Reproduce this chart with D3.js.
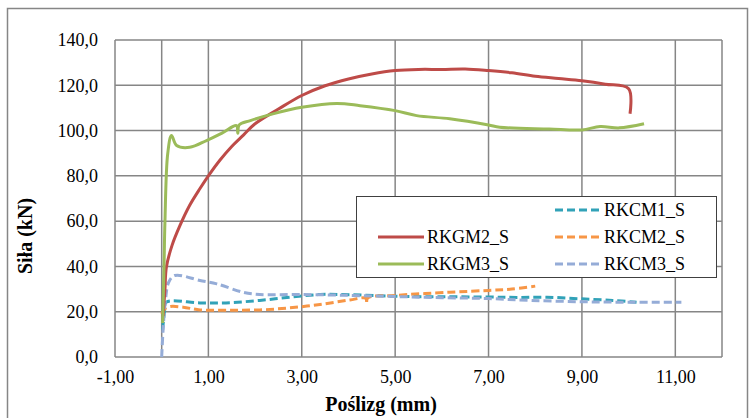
<!DOCTYPE html>
<html>
<head>
<meta charset="utf-8">
<script src="https://cdn.jsdelivr.net/npm/d3@7"></script>
<style>
  body { margin: 0; background: #fff; }
  text { font-family: "Liberation Serif", "Times New Roman", serif; fill: #000; }
</style>
</head>
<body>
<div id="chart"></div>
<script>
// slip (mm) vs force (kN)
var rkgm2 = [[0.03,18],[0.07,30],[0.1,39.6],[0.22,49.2],[0.39,58],[0.6,67],[0.82,74.4],[1.0,80],
  [1.25,87],[1.5,93],[1.75,98],[2.0,103],[2.5,109.5],[3.0,115.5],[3.5,119.8],[4.0,122.8],[4.5,125],
  [5.0,126.5],[5.5,127],[6.0,127],[6.5,127.2],[7.0,126.5],[7.5,125.5],[8.0,124],[8.5,123],
  [9.0,122],[9.5,120.5],[10.0,118.5],[10.03,107.4]];
var rkgm3 = [[0.02,15],[0.05,40],[0.07,60],[0.13,90],[0.21,97.8],[0.32,93.4],[0.6,92.6],[0.96,95.6],
  [1.3,99],[1.6,102.2],[1.63,98.8],[1.66,102.5],[1.9,104.4],[2.4,107.5],[3.0,110.3],[3.75,112],
  [4.25,111],[5.0,108.8],[5.46,106.6],[6.17,105.2],[7.0,102.5],[7.24,101.5],[8.3,100.7],[9.0,100.3],
  [9.39,101.8],[9.8,101.2],[10.33,103]];
var rkcm1 = [[0.02,12],[0.06,20],[0.1,24.2],[0.82,23.9],[1.46,24],[2.1,25],[2.75,26.4],[3.39,27.6],
  [4.03,27.5],[5.0,26.8],[6.0,26.6],[7.0,26.5],[7.6,26.3],[8.25,26.4],[8.96,25.7],[9.66,25],[10.17,24.2]];
var rkcm2 = [[0.0,19],[0.07,21.3],[0.18,22.3],[0.46,22],[0.82,20.8],[1.46,20.7],[2.1,20.8],[2.75,21.7],
  [3.39,23.2],[4.03,25.2],[4.37,25.9],[4.39,23.5],[4.41,26],[5.0,27.2],[6.17,28.6],[7.0,29.4],
  [7.5,30],[8.0,31.3]];
var rkcm3 = [[0.0,0],[0.03,12],[0.08,25],[0.15,33],[0.28,36],[0.82,33.8],[1.18,32.3],[1.74,28.6],
  [2.1,27.6],[2.96,27.6],[4.03,27.2],[5.0,26.7],[6.0,26.2],[7.0,25.8],[7.9,25],[9.0,24.4],
  [10.0,24.2],[11.13,24.2]];

var series = [
  {name: "RKGM2_S", data: rkgm2, color: "#be4b48", dash: null, col: 0, row: 1},
  {name: "RKGM3_S", data: rkgm3, color: "#9bbb59", dash: null, col: 0, row: 2},
  {name: "RKCM1_S", data: rkcm1, color: "#31a2b8", dash: "8,4", col: 1, row: 0},
  {name: "RKCM2_S", data: rkcm2, color: "#f79646", dash: "8,4", col: 1, row: 1},
  {name: "RKCM3_S", data: rkcm3, color: "#95acd7", dash: "8,4", col: 1, row: 2}
];
var xTicks = [-1, 1, 3, 5, 7, 9, 11];
var yTicks = [0, 20, 40, 60, 80, 100, 120, 140];

var W = 754, H = 418;
var pLeft = 115, pRight = 722, pTop = 40, pBottom = 357;

var svg = d3.select("#chart").append("svg")
    .attr("width", W)
    .attr("height", H);

// outer chart border
svg.append("rect")
    .attr("x", 7.5).attr("y", 8.5)
    .attr("width", 740).attr("height", 420)
    .attr("fill", "#fff")
    .attr("stroke", "#868686")
    .attr("stroke-width", 1.5);

var x = d3.scaleLinear().domain([-1, 12]).range([pLeft, pRight]);
var y = d3.scaleLinear().domain([0, 140]).range([pBottom, pTop]);

var fmt = function(d, n) { return d.toFixed(n).replace(".", ","); };

// gridlines
svg.append("g")
    .selectAll("line").data(yTicks).enter().append("line")
    .attr("x1", pLeft).attr("x2", pRight)
    .attr("y1", function(d) { return y(d); })
    .attr("y2", function(d) { return y(d); })
    .attr("stroke", "#868686").attr("stroke-width", 1.5);
svg.append("g")
    .selectAll("line").data(xTicks.concat([0, 12])).enter().append("line")
    .attr("x1", function(d) { return x(d); })
    .attr("x2", function(d) { return x(d); })
    .attr("y1", pTop).attr("y2", pBottom)
    .attr("stroke", "#868686").attr("stroke-width", 1.5);

// axes (labels only)
var yAxis = svg.append("g")
    .attr("transform", "translate(" + pLeft + ",0)")
    .call(d3.axisLeft(y).tickValues(yTicks).tickSize(0).tickPadding(17)
      .tickFormat(function(d) { return fmt(d, 1); }));
var xAxis = svg.append("g")
    .attr("transform", "translate(0," + pBottom + ")")
    .call(d3.axisBottom(x).tickValues(xTicks).tickSize(0).tickPadding(13)
      .tickFormat(function(d) { return fmt(d, 2); }));
[yAxis, xAxis].forEach(function(a) {
  a.select(".domain").remove();
  a.selectAll("text")
      .attr("fill", "#000")
      .style("font-family", "Liberation Serif")
      .style("font-size", "18px");
});

var line = d3.line()
    .x(function(d) { return x(d[0]); })
    .y(function(d) { return y(d[1]); })
    .curve(d3.curveCatmullRom.alpha(0.5));

// dashed series first, solid on top
var order = [2, 3, 4, 0, 1];
order.forEach(function(i) {
  var s = series[i];
  svg.append("path")
      .datum(s.data)
      .attr("d", line)
      .attr("fill", "none")
      .attr("stroke", s.color)
      .attr("stroke-width", 3)
      .attr("stroke-linejoin", "round")
      .attr("stroke-dasharray", s.dash);
});

// legend
var lg = svg.append("g");
lg.append("rect")
    .attr("x", 356.5).attr("y", 196.5)
    .attr("width", 360).attr("height", 81)
    .attr("fill", "#fff")
    .attr("stroke", "#404040")
    .attr("stroke-width", 1);
var colX = [378, 555];
series.forEach(function(s) {
  var ly = 210 + s.row * 27;
  var lx = colX[s.col];
  lg.append("line")
      .attr("x1", lx).attr("x2", lx + 46)
      .attr("y1", ly).attr("y2", ly)
      .attr("stroke", s.color)
      .attr("stroke-width", 3)
      .attr("stroke-dasharray", s.dash);
  lg.append("text")
      .attr("x", lx + 49).attr("y", ly + 6)
      .style("font-size", "18px")
      .text(s.name);
});

// axis titles
svg.append("text")
    .attr("x", 381).attr("y", 411)
    .attr("text-anchor", "middle")
    .style("font-size", "20px")
    .style("font-weight", "bold")
    .text("Poślizg (mm)");
svg.append("text")
    .attr("transform", "translate(32,236) rotate(-90)")
    .attr("text-anchor", "middle")
    .style("font-size", "20px")
    .style("font-weight", "bold")
    .text("Siła (kN)");
</script>
</body>
</html>
